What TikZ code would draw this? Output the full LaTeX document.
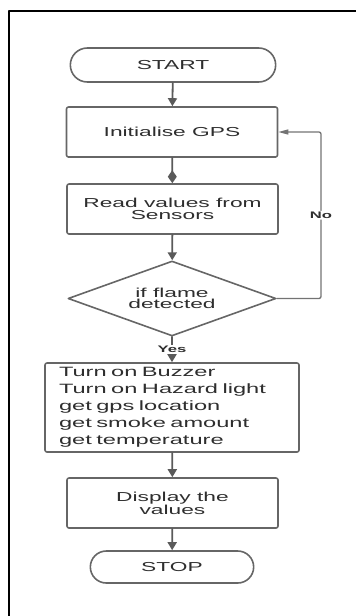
\documentclass[tikz,border=0pt]{standalone}
\usepackage{fontspec}
\setmainfont{Liberation Sans}[FakeStretch=1.75]
\usetikzlibrary{arrows.meta,shapes.geometric,shapes.misc}
\definecolor{linegray}{HTML}{5A5A5A}
\definecolor{boxgray}{HTML}{666666}
\definecolor{textgray}{HTML}{2E2E2E}
\tikzset{
  term/.style={draw=boxgray, line width=1.6pt, rounded rectangle, minimum height=34pt, text=textgray},
  stepbox/.style={draw=boxgray, line width=1.6pt, rounded corners=2pt, minimum width=211pt, minimum height=50pt, align=center, text=textgray},
  decide/.style={draw=boxgray, line width=1.6pt, diamond, aspect=2.77, inner sep=0pt, minimum width=208pt, minimum height=75pt, align=center, text=textgray},
  arr/.style={draw=linegray, line width=1.8pt, -{Triangle[length=8pt,width=9pt]}},
  lbl/.style={fill=white, inner sep=1pt, font=\fontsize{9.5}{10}\selectfont\bfseries, text=textgray}
}
\begin{document}
\begin{tikzpicture}[x=1pt, y=-1pt, font=\fontsize{13}{11.5}\selectfont, line join=round, line cap=round]
	\useasboundingbox (0,0) rectangle (356,616);
	% frame
	\draw[line width=2.8pt, line cap=butt] (9,616) -- (9,11) -- (356,11);
	% nodes
	\node[term, minimum width=212pt] (start) at (173,65) {START};
	\node[stepbox] (init) at (172,132) {Initialise GPS};
	\node[stepbox] (read) at (172.5,209) {Read values from\\Sensors};
	\node[decide] (dec) at (172,298.5) {if flame\\detected};
	\node[draw=boxgray, line width=1.6pt, rounded corners=2pt, minimum width=254pt, minimum height=89pt,
	      text width=226pt, inner xsep=14pt, align=left, text=textgray, font=\fontsize{13.5}{17}\selectfont]
	      (act) at (172,407.5) {Turn on Buzzer\\Turn on Hazard light\\get gps location\\get smoke amount\\get temperature};
	\node[stepbox] (disp) at (172.5,503) {Display the\\values};
	\node[term, minimum width=170pt, minimum height=32pt] (stop) at (172,567) {STOP};
	\coordinate (noturn) at (321,0);
	% connectors
	\draw[arr] (start) -- (init);
	\draw[arr, -{Diamond[length=13pt,width=9pt]}] (init) -- (read);
	\draw[arr] (read) -- (dec);
	\draw[arr] (dec) -- node[lbl]{Yes} (act);
	\draw[arr] (act) -- (disp);
	\draw[arr] (disp) -- (stop);
	\draw[draw=linegray!85, line width=1.3pt, rounded corners=2pt, -{Triangle[length=10pt,width=5pt]}]
	     (dec.east) -- (dec.east -| noturn) -- node[lbl]{No} (init.east -| noturn) -- (init.east);
\end{tikzpicture}
\end{document}
